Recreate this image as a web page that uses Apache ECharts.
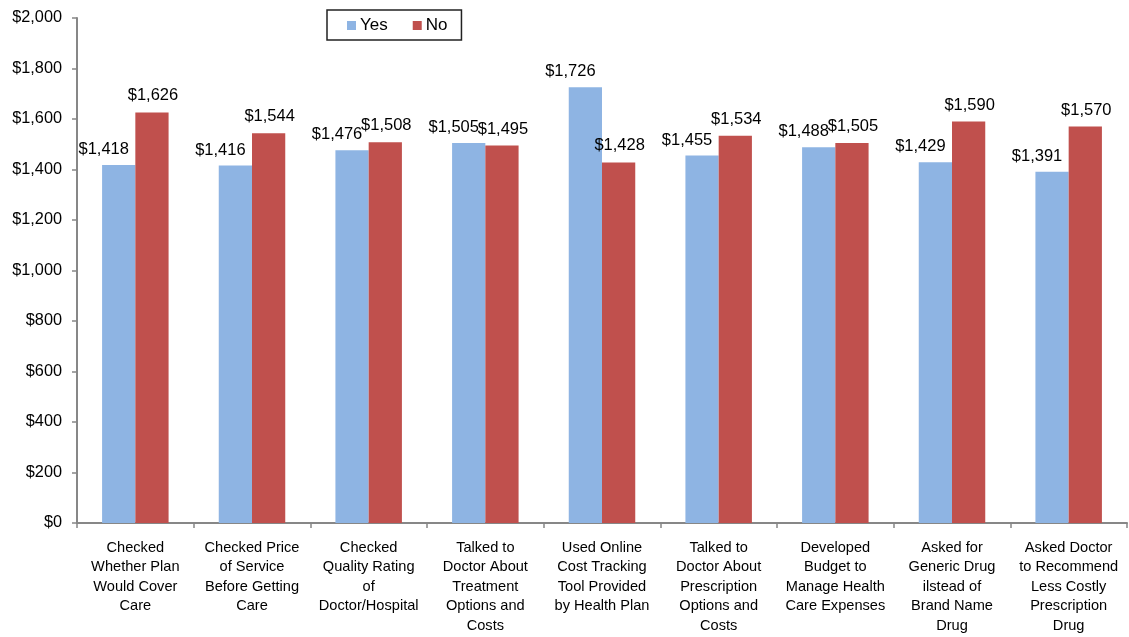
<!DOCTYPE html>
<html>
<head>
<meta charset="utf-8">
<script src="https://cdn.jsdelivr.net/npm/echarts@6/dist/echarts.min.js"></script>
<style>
html,body{margin:0;padding:0;background:#fff;}
#chart{width:1129px;height:637px;}
</style>
</head>
<body>
<div id="chart"></div>
<script>
var categories = [
  "Checked\nWhether Plan\nWould Cover\nCare",
  "Checked Price\nof Service\nBefore Getting\nCare",
  "Checked\nQuality Rating\nof\nDoctor/Hospital",
  "Talked to\nDoctor About\nTreatment\nOptions and\nCosts",
  "Used Online\nCost Tracking\nTool Provided\nby Health Plan",
  "Talked to\nDoctor About\nPrescription\nOptions and\nCosts",
  "Developed\nBudget to\nManage Health\nCare Expenses",
  "Asked for\nGeneric Drug\nilstead of\nBrand Name\nDrug",
  "Asked Doctor\nto Recommend\nLess Costly\nPrescription\nDrug"
];
var yesValues = [1418, 1416, 1476, 1505, 1726, 1455, 1488, 1429, 1391];
var noValues  = [1626, 1544, 1508, 1495, 1428, 1534, 1505, 1590, 1570];
var seriesNames = ["Yes", "No"];

var FONT = '"Liberation Sans", Arial, Helvetica, sans-serif';
function money(v){ return '$' + String(v).replace(/\B(?=(\d{3})+(?!\d))/g, ','); }

var chart = echarts.init(document.getElementById('chart'), null, {renderer:'canvas'});
chart.setOption({
  animation: false,
  backgroundColor: '#ffffff',
  textStyle: {fontFamily: FONT},
  grid: {left: 77, right: 2, top: 18, bottom: 114, containLabel: false},
  legend: {
    data: seriesNames,
    left: 327, top: 10,
    padding: [7, 14, 6, 20],
    itemWidth: 9, itemHeight: 9, itemGap: 25,
    borderColor: '#222', borderWidth: 1.5,
    icon: 'rect',
    textStyle: {fontFamily: FONT, fontSize: 17, color: '#000', padding: [0,0,0,-1]}
  },
  xAxis: {
    type: 'category',
    data: categories,
    axisLine: {lineStyle: {color: '#878787', width: 2}},
    axisTick: {show: true, length: 5, alignWithLabel: false, lineStyle: {color: '#878787', width: 1.5}},
    axisLabel: {
      interval: 0, margin: 15, color: '#000',
      fontFamily: FONT, fontSize: 14.6, lineHeight: 19.5
    },
    splitLine: {show: false}
  },
  yAxis: {
    type: 'value',
    min: 0, max: 2000, interval: 200,
    axisLine: {show: true, lineStyle: {color: '#878787', width: 2}},
    axisTick: {show: true, length: 5, lineStyle: {color: '#878787', width: 1.5}},
    axisLabel: {color: '#000', fontFamily: FONT, fontSize: 16.3, margin: 15, formatter: money},
    splitLine: {show: false}
  },
  series: [
    {
      name: seriesNames[0], type: 'bar', data: yesValues,
      barGap: '0%', barCategoryGap: '43%',
      itemStyle: {color: '#8EB4E3'},
      label: {show: true, position: 'top', distance: 7, offset: [-15, 0],
        color: '#000', fontFamily: FONT, fontSize: 16.5, formatter: function(p){return money(p.value);}}
    },
    {
      name: seriesNames[1], type: 'bar', data: noValues,
      barGap: '0%', barCategoryGap: '43%',
      itemStyle: {color: '#C0504D'},
      label: {show: true, position: 'top', distance: 8, offset: [1, 0],
        color: '#000', fontFamily: FONT, fontSize: 16.5, formatter: function(p){return money(p.value);}}
    }
  ]
});
</script>
</body>
</html>
